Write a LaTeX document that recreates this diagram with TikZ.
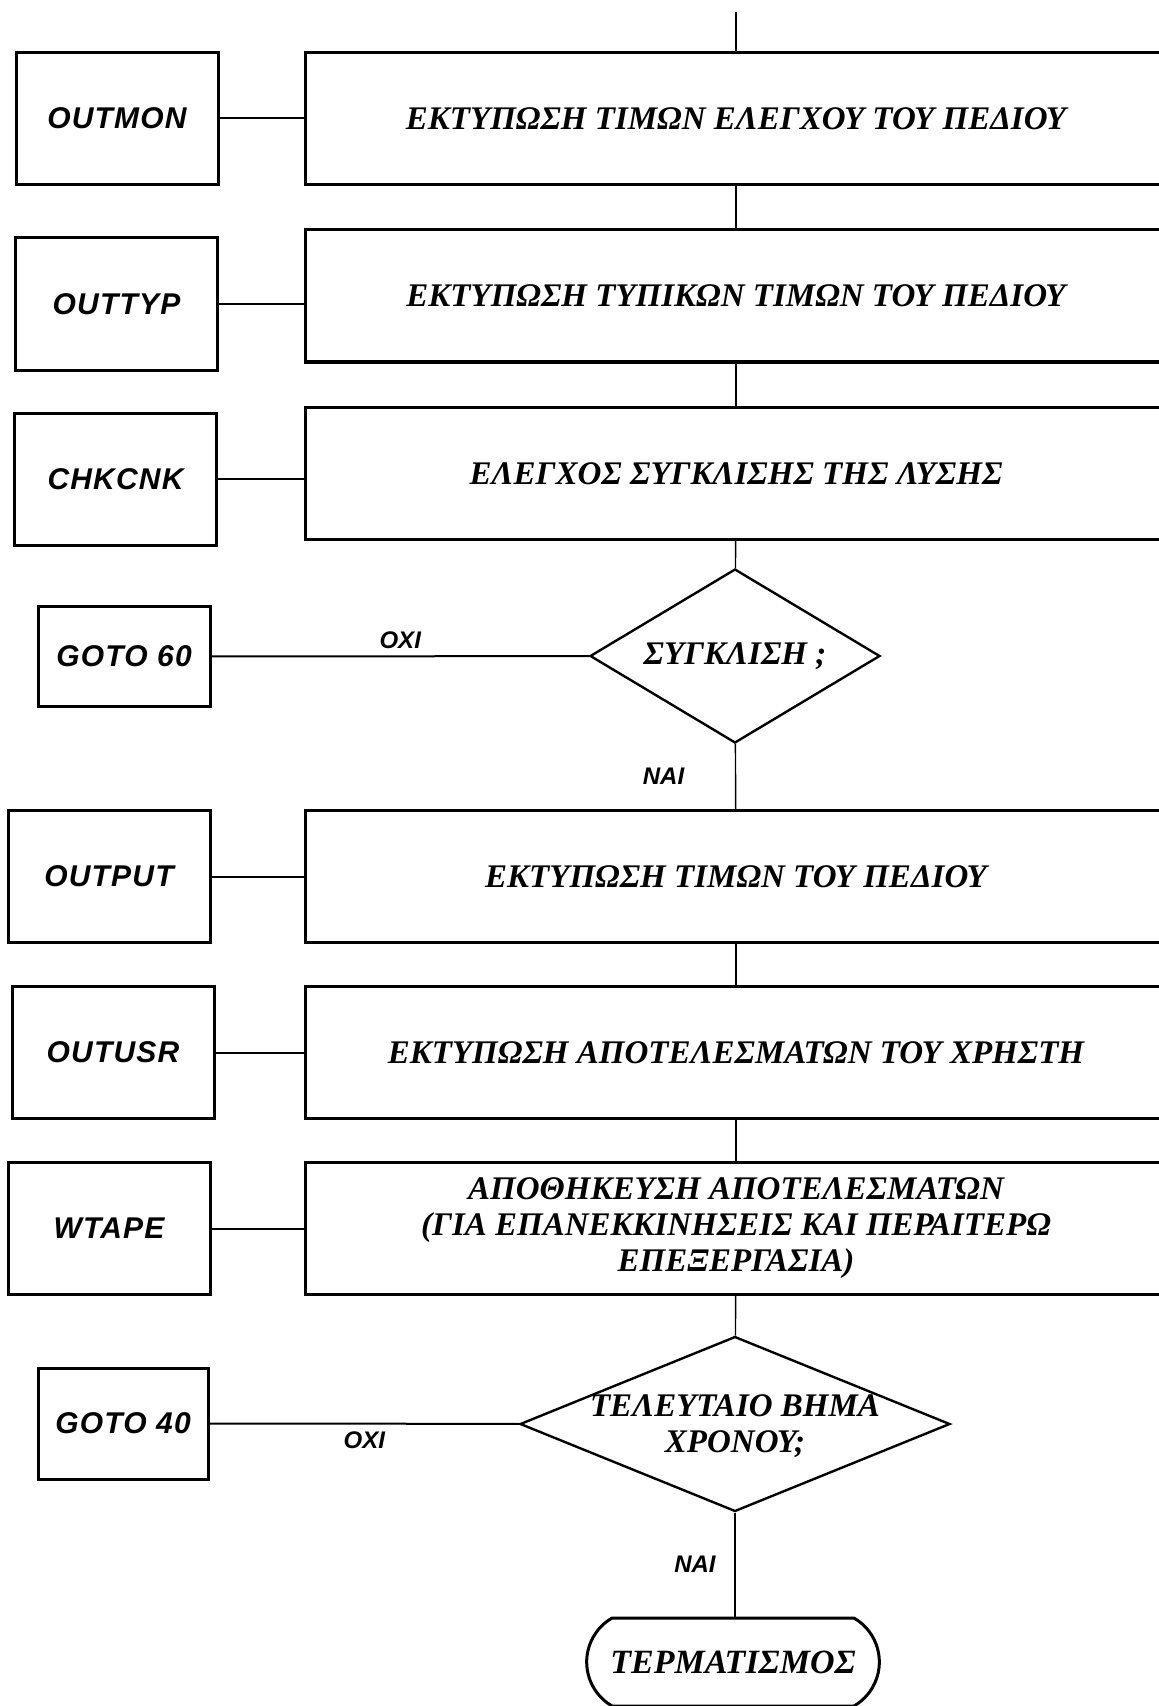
\documentclass[tikz,border=0pt]{standalone}
\usepackage{fontspec}
\setmainfont{Liberation Serif}
\setsansfont{Liberation Sans}
\newfontfamily\routinefont[LetterSpace=4]{Liberation Sans}
\usetikzlibrary{shapes.geometric,shapes.misc}

\tikzset{
  greektext/.style={font=\fontsize{16.5}{18}\selectfont\bfseries\itshape},
  routine/.style={draw,line width=1.5pt,inner sep=0pt,
    font=\routinefont\bfseries\itshape\fontsize{15}{17}\selectfont},
  answer/.style={font=\sffamily\bfseries\itshape\fontsize{12}{14}\selectfont}
}

\begin{document}
\begin{tikzpicture}[x=0.5pt,y=-0.5pt]

  \useasboundingbox (0,0) rectangle (1158,1706);

  \begin{scope}[every node/.style={draw,line width=1.5pt,greektext,align=center,
      minimum width=431pt,minimum height=66pt,inner sep=0pt}]
    \node (mon)  at (736,118.5)  {ΕΚΤΥΠΩΣΗ ΤΙΜΩΝ ΕΛΕΓΧΟΥ ΤΟΥ ΠΕΔΙΟΥ};
    \node (typ)  at (736,296)    {ΕΚΤΥΠΩΣΗ ΤΥΠΙΚΩΝ ΤΙΜΩΝ ΤΟΥ ΠΕΔΙΟΥ};
    \node (cnk)  at (736,473.5)  {ΕΛΕΓΧΟΣ ΣΥΓΚΛΙΣΗΣ ΤΗΣ ΛΥΣΗΣ};
    \node (out)  at (736,876.5)  {ΕΚΤΥΠΩΣΗ ΤΙΜΩΝ ΤΟΥ ΠΕΔΙΟΥ};
    \node (usr)  at (736,1052.5) {ΕΚΤΥΠΩΣΗ ΑΠΟΤΕΛΕΣΜΑΤΩΝ ΤΟΥ ΧΡΗΣΤΗ};
    \node (tape) at (736,1228)   {ΑΠΟΘΗΚΕΥΣΗ ΑΠΟΤΕΛΕΣΜΑΤΩΝ\\(ΓΙΑ ΕΠΑΝΕΚΚΙΝΗΣΕΙΣ ΚΑΙ ΠΕΡΑΙΤΕΡΩ\\ΕΠΕΞΕΡΓΑΣΙΑ)};
  \end{scope}

  \begin{scope}[every node/.style={routine,minimum width=101pt,minimum height=66pt}]
    \node (outmon) at (117,118.5)  {OUTMON};
    \node (outtyp) at (116.5,304)  {OUTTYP};
    \node (chkcnk) at (115.5,479)  {CHKCNK};
    \node (output) at (109,876.5)  {OUTPUT};
    \node (outusr) at (113,1052.5) {OUTUSR};
    \node (wtape)  at (109,1228.5) {WTAPE};
    \node[minimum width=86pt,minimum height=50pt]   (goto60) at (124,656.5)  {GOTO 60};
    \node[minimum width=85pt,minimum height=55.5pt] (goto40) at (123,1423.5) {GOTO 40};
  \end{scope}

  \begin{scope}[every node/.style={diamond,draw,line width=1.2pt,inner sep=0pt,greektext,align=center}]
    \node[minimum width=145pt,minimum height=87pt,
      label={[greektext]center:ΣΥΓΚΛΙΣΗ ;}] (conv) at (735,656) {};
    \node[minimum width=215pt,minimum height=87.5pt,
      label={[greektext,align=center,yshift=-1pt]center:ΤΕΛΕΥΤΑΙΟ ΒΗΜΑ\\ΧΡΟΝΟΥ;}] (last) at (735,1424) {};
  \end{scope}

  \node[rounded rectangle,rounded rectangle arc length=120,draw,line width=1.5pt,
    font=\fontsize{17}{18}\selectfont\bfseries\itshape,
    minimum width=153pt,minimum height=44pt] (stop) at (733,1662) {ΤΕΡΜΑΤΙΣΜΟΣ};

  \coordinate (start) at (736,12);

  \begin{scope}[every edge/.style={draw,line width=0.7pt}]
    \path (start) edge (mon.north);
    \path (mon) edge (typ);
    \path (typ) edge (cnk);
    \path (cnk) edge (conv);
    \path (conv) edge node[answer,left=22pt] {ΝΑΙ} (out);
    \path (out) edge (usr);
    \path (usr) edge (tape);
    \path (tape) edge (last);
    \path (last) edge node[answer,left=6pt] {ΝΑΙ} (stop.north -| last.south);
  \end{scope}

  \begin{scope}[every edge/.style={draw,line width=1pt}]
    \path (outmon.east) edge (outmon.east -| mon.west);
    \path (outtyp.east) edge (outtyp.east -| typ.west);
    \path (chkcnk.east) edge (chkcnk.east -| cnk.west);
    \path (output.east) edge (output.east -| out.west);
    \path (outusr.east) edge (outusr.east -| usr.west);
    \path (wtape.east)  edge (wtape.east -| tape.west);
    \path (goto60) edge node[answer,above] {ΟΧΙ} (conv);
    \path (goto40) edge node[answer,below] {ΟΧΙ} (last);
  \end{scope}

\end{tikzpicture}
\end{document}
